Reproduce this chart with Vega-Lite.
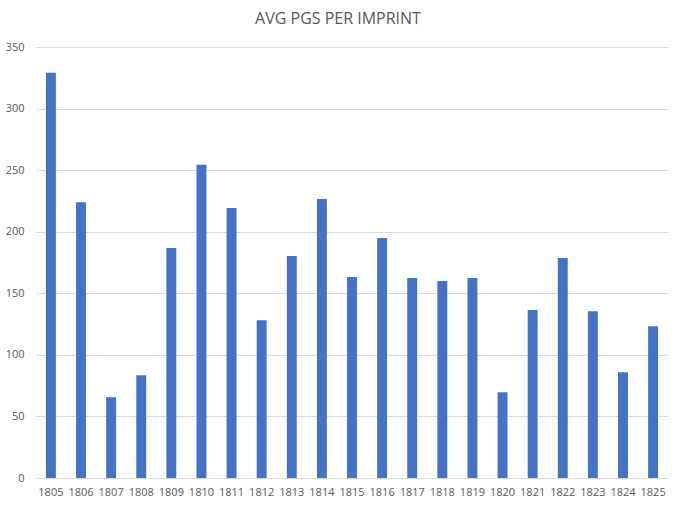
{
  "$schema": "https://vega.github.io/schema/vega-lite/v6.json",
  "width": 632,
  "height": 431,
  "autosize": {"type": "none"},
  "padding": {"left": 36, "top": 47, "right": 9, "bottom": 31},
  "background": "white",
  "title": {
    "text": "AVG PGS PER IMPRINT",
    "font": "Open Sans",
    "fontSize": 16,
    "fontWeight": "normal",
    "color": "#595959",
    "offset": 14,
    "dx": -14
  },
  "data": {
    "values": [
      {"year": "1805", "pages": 329},
      {"year": "1806", "pages": 224},
      {"year": "1807", "pages": 65.6},
      {"year": "1808", "pages": 83.5},
      {"year": "1809", "pages": 186.8},
      {"year": "1810", "pages": 254.3},
      {"year": "1811", "pages": 219.3},
      {"year": "1812", "pages": 128.2},
      {"year": "1813", "pages": 180.3},
      {"year": "1814", "pages": 226.6},
      {"year": "1815", "pages": 163.2},
      {"year": "1816", "pages": 194.9},
      {"year": "1817", "pages": 162.4},
      {"year": "1818", "pages": 159.9},
      {"year": "1819", "pages": 162.4},
      {"year": "1820", "pages": 69.7},
      {"year": "1821", "pages": 136.4},
      {"year": "1822", "pages": 178.6},
      {"year": "1823", "pages": 135.5},
      {"year": "1824", "pages": 85.9},
      {"year": "1825", "pages": 123.3}
    ]
  },
  "mark": {"type": "bar", "color": "#4472C4"},
  "encoding": {
    "x": {
      "field": "year",
      "type": "ordinal",
      "title": null,
      "scale": {"paddingInner": 0.67, "paddingOuter": 0.33},
      "axis": {
        "labelAngle": 0,
        "labelFont": "Open Sans",
        "labelFontSize": 11,
        "labelColor": "#595959",
        "labelPadding": 8,
        "ticks": false,
        "domainColor": "#d9d9d9",
        "grid": false
      }
    },
    "y": {
      "field": "pages",
      "type": "quantitative",
      "title": null,
      "scale": {"domain": [0, 350]},
      "axis": {
        "values": [0, 50, 100, 150, 200, 250, 300, 350],
        "labelFont": "Open Sans",
        "labelFontSize": 11,
        "labelColor": "#595959",
        "labelPadding": 12,
        "ticks": false,
        "domain": false,
        "gridColor": "#d9d9d9"
      }
    }
  },
  "config": {"view": {"stroke": null}}
}
